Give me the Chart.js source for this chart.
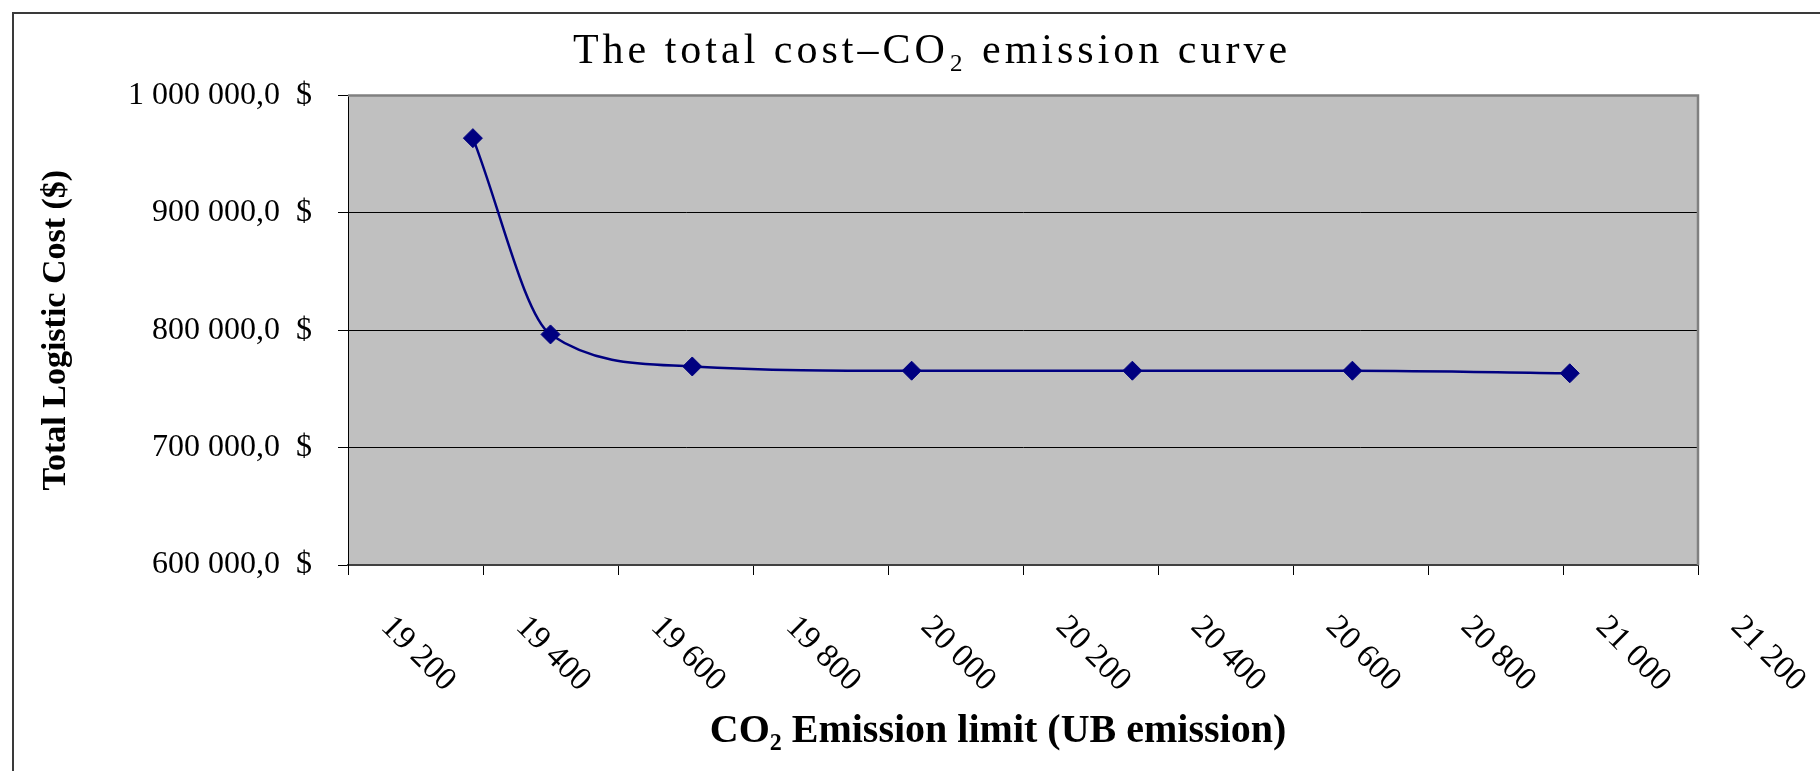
<!DOCTYPE html>
<html>
<head>
<meta charset="utf-8">
<title>The total cost–CO2 emission curve</title>
<script src="https://cdn.jsdelivr.net/npm/chart.js@4/dist/chart.umd.min.js"></script>
<style>
    body { margin: 0; background: #fff; }
    canvas { display: block; }
</style>
</head>
<body>
<canvas id="costChart" width="1820" height="771"></canvas>
<script>
//values
const emissionLimit = [19385, 19500, 19710, 20035, 20362, 20688, 21010];
const totalCost = [963600, 796400, 769100, 765500, 765500, 765500, 763300];

//axis ranges
const xRange = [19200, 21200, 200];
const yRange = [600000, 1000000, 100000];

const serif = "'Liberation Serif', 'Times New Roman', serif";

//19200 -> "19 200"
function spaced(v) {
    return String(Math.round(v)).replace(/\B(?=(\d{3})+(?!\d))/g, ' ');
}

//1000000 -> "1 000 000,0  $"
function money(v) {
    const parts = v.toFixed(1).split('.');
    return spaced(Number(parts[0])) + ',' + parts[1] + '  $';
}

//wrap a draw method so it runs with a tweaked context
function wrapDraw(obj, name, tweak) {
    if (!obj || obj['_wrapped_' + name]) return;
    const orig = obj[name].bind(obj);
    obj[name] = function (...args) {
        const c = obj.ctx || obj.chart.ctx;
        c.save();
        tweak(c);
        orig(...args);
        c.restore();
    };
    obj['_wrapped_' + name] = true;
}

//white page, outer frame and grey plot area
const backdrop = {
    id: 'backdrop',
    beforeDraw(chart) {
        const c = chart.ctx;
        const a = chart.chartArea;
        c.save();
        c.fillStyle = '#fff';
        c.fillRect(0, 0, chart.width, chart.height);
        c.strokeStyle = '#3a3a3a';
        c.lineWidth = 2;
        c.beginPath();
        c.moveTo(13, chart.height);
        c.lineTo(13, 13);
        c.lineTo(chart.width, 13);
        c.stroke();
        c.fillStyle = '#c0c0c0';
        c.fillRect(a.left, a.top, a.right - a.left, a.bottom - a.top);
        c.restore();

        //the title in the original is set with wide letter spacing
        wrapDraw(chart.titleBlock, 'draw', c => { c.letterSpacing = '4px'; });
        //the x axis title sits a little left of the plot centre
        wrapDraw(chart.scales.x, 'drawTitle', c => { c.translate(-25, 0); });
    },
    beforeDatasetsDraw(chart) {
        const c = chart.ctx;
        const a = chart.chartArea;
        c.save();
        c.strokeStyle = '#808080';
        c.lineWidth = 2.5;
        c.beginPath();
        c.moveTo(a.left, a.top);
        c.lineTo(a.right, a.top);
        c.lineTo(a.right, a.bottom);
        c.stroke();
        c.restore();
    }
};

//x tick labels turned 45 degrees clockwise, hanging down from each tick
const slantedTicks = {
    id: 'slantedTicks',
    afterDraw(chart) {
        const scale = chart.scales.x;
        const c = chart.ctx;
        c.save();
        c.fillStyle = '#000';
        c.font = '33px ' + serif;
        c.textAlign = 'center';
        c.textBaseline = 'middle';
        scale.ticks.forEach(t => {
            const x = scale.getPixelForValue(t.value);
            c.save();
            c.translate(x + 70, scale.top + 89);
            c.rotate(Math.PI / 4);
            c.fillText(spaced(t.value), 0, 0);
            c.restore();
        });
        c.restore();
    }
};

const ctx = document.getElementById('costChart').getContext('2d');

const costChart = new Chart(ctx, {
    type: 'line',
    data: {
        datasets: [{
            label: 'Total Logistic Cost',
            data: emissionLimit.map((x, i) => ({ x: x, y: totalCost[i] })),
            borderColor: '#000080',
            backgroundColor: '#000080',
            borderWidth: 2.5,
            cubicInterpolationMode: 'monotone',
            pointStyle: 'rectRot',
            pointRadius: 9.5,
            pointBorderWidth: 1,
            pointBackgroundColor: '#000080',
            pointBorderColor: '#000080'
        }]
    },
    options: {
        responsive: false,
        animation: false,
        devicePixelRatio: 1,
        layout: {
            padding: { left: 44, right: 0, top: 0, bottom: 0 }
        },
        scales: {
            x: {
                type: 'linear',
                min: xRange[0],
                max: xRange[1],
                afterFit: scale => { scale.height = 206; },
                ticks: { display: false, stepSize: xRange[2] },
                grid: {
                    drawOnChartArea: false,
                    drawTicks: true,
                    tickLength: 10,
                    color: '#000',
                    lineWidth: 1
                },
                border: { display: true, color: '#404040', width: 2 },
                title: {
                    display: true,
                    text: 'CO₂ Emission limit (UB emission)',
                    color: '#000',
                    font: { family: serif, size: 40, weight: 'bold' },
                    padding: { top: 0, bottom: 15 }
                }
            },
            y: {
                min: yRange[0],
                max: yRange[1],
                afterFit: scale => { scale.width = 304; },
                ticks: {
                    stepSize: yRange[2],
                    color: '#000',
                    padding: 26,
                    font: { family: serif, size: 32 },
                    callback: v => money(v)
                },
                grid: {
                    color: '#000',
                    lineWidth: 1,
                    tickLength: 10
                },
                border: { display: true, color: '#000', width: 1 },
                title: {
                    display: true,
                    text: 'Total Logistic Cost ($)',
                    color: '#000',
                    font: { family: serif, size: 34, weight: 'bold' },
                    padding: { top: -8, bottom: 0 }
                }
            },
            //empty margin on the right of the plot area
            yRight: {
                position: 'right',
                display: true,
                afterFit: scale => { scale.width = 122; },
                ticks: { display: false },
                grid: { display: false },
                border: { display: false }
            }
        },
        plugins: {
            legend: { display: false },
            tooltip: { enabled: false },
            title: {
                display: true,
                text: 'The total cost–CO₂ emission curve',
                color: '#000',
                font: { family: serif, size: 42, weight: 'normal' },
                padding: { top: 27, bottom: 18 }
            }
        }
    },
    plugins: [backdrop, slantedTicks]
});
</script>
</body>
</html>
